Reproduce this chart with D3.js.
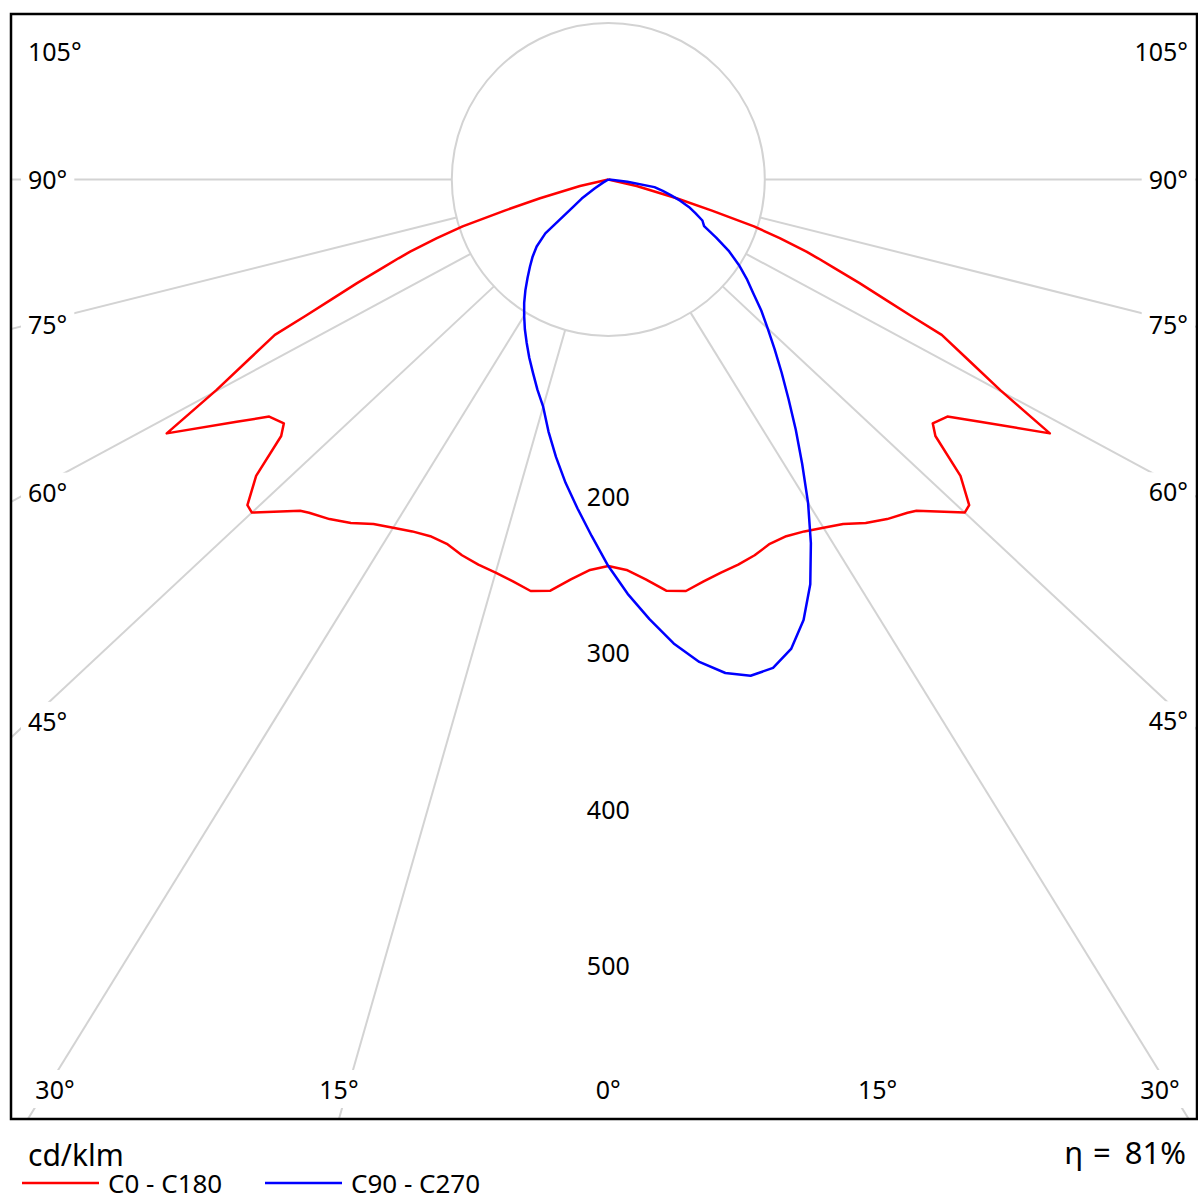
<!DOCTYPE html>
<html>
<head>
<meta charset="utf-8">
<script src="https://cdn.jsdelivr.net/npm/d3@7"></script>
<style>
  html, body { margin: 0; padding: 0; background: #fff; }
  svg { display: block; }
  text { font-family: "Noto Sans", "DejaVu Sans", sans-serif; fill: #000; }
</style>
</head>
<body>
<svg id="chart" width="1198" height="1202"></svg>
<script>
// ---------------- data (cd/klm) ----------------
// C0 - C180 (symmetric, values for gamma >= 0, mirrored to the other side)
const redAngles = [0,2.5,5,7.5,10,12.5,15,17.5,20,22.5,25,27.5,30,32.5,35,37.5,40,41,45,46,48,50,51.2,53.2,55.1,58.4,60.1,61.9,63.5,64.3,65.1,66.2,67.3,68.1,68.7,69.9,71,72.2,73.6,76.2,90];
const redValues = [247,249.7,256.5,265,267,263,260,258,255.5,252,251.5,253.5,257,261,268,273.5,278,280.5,301,299.6,283,255,248.6,252.9,270.6,309.6,270,242.5,222.5,200,183,164,145.6,135,127,109,92,65,42.5,17.4,0];

// C90 - C270 (gamma 0..90 in 2.5 degree steps)
const blueAngles = [0,2.5,5,7.5,10,12.5,15,17.5,20,22.5,25,27.5,30,32.5,35,37.5,40,42.5,45,47.5,50,52.5,55,57.5,60,62.5,65,67.5,70,72.5,75,77.5,80,82.5,85,87.5,90];
const c90Values  = [247,265,282,299,313,323,328.3,327.2,319.2,304.7,285.4,262,238.6,215.5,195.2,176.8,161,147,134.6,123.9,113,104.2,95.2,85.6,74.4,64.5,62,56.3,51.2,45,38.6,33.3,28,11.5,3,0,0];
const c270Values = [247,228,211,195.5,180,165,150.3,140.8,131.5,123.3,115.3,107.9,100.5,93.5,86.3,79.2,72.8,66.9,60.5,51,28,20,10,4,0,0,0,0,0,0,0,0,0,0,0,0,0];

const gridLeft = [15,30,45,60,75,90];
const gridRight = [30,45,60,75,90];
const sideLabels = [105,90,75,60,45];
const bottomLabels = [30,15,0];
const valueTicks = [200,300,400,500];
const legendItems = ["C0 - C180","C90 - C270"];
const legendColors = ["#ff0000","#0000ff"];
const unitLabel = "cd/klm";
const effParts = ["η", "=", "81%"];

// ---------------- layout ----------------
const svg = d3.select("#chart");
const frame = {x0: 11, y0: 14, x1: 1197, y1: 1119};
const cx = 608.3, cy = 179.5;
const aspect = 1.07;
const rScale = d3.scaleLinear().domain([0, 100]).range([0, 156.5]);
const rad = d => d * Math.PI / 180;
function pt(theta, v) {
  const t = rad(theta);
  return [cx + aspect * rScale(v) * Math.sin(t), cy + rScale(v) * Math.cos(t)];
}
function dir(theta) {
  const t = rad(theta);
  const dx = aspect * Math.sin(t), dy = Math.cos(t);
  const n = Math.hypot(dx, dy);
  return [dx / n, dy / n];
}

svg.append("defs").append("clipPath").attr("id", "fclip")
  .append("rect").attr("x", frame.x0).attr("y", frame.y0)
  .attr("width", frame.x1 - frame.x0).attr("height", frame.y1 - frame.y0);

const plot = svg.append("g").attr("clip-path", "url(#fclip)");
const gridColor = "#d3d3d3";

// radial grid lines
const gridSigned = gridLeft.map(a => -a).concat(gridRight);
plot.selectAll("line.grid").data(gridSigned).enter().append("line")
  .attr("class", "grid")
  .attr("x1", a => cx + rScale(100) * dir(a)[0])
  .attr("y1", a => cy + rScale(100) * dir(a)[1])
  .attr("x2", a => cx + 3000 * dir(a)[0])
  .attr("y2", a => cy + 3000 * dir(a)[1])
  .attr("stroke", gridColor).attr("stroke-width", 2);

// circle r = 100
plot.append("circle").attr("cx", cx).attr("cy", cy).attr("r", rScale(100))
  .attr("fill", "none").attr("stroke", gridColor).attr("stroke-width", 2);

// curves
const line = d3.line().x(d => d[0]).y(d => d[1]);
const redPts = [];
for (let i = redAngles.length - 1; i >= 0; i--) redPts.push(pt(-redAngles[i], redValues[i]));
for (let i = 1; i < redAngles.length; i++) redPts.push(pt(redAngles[i], redValues[i]));
const bluePts = [];
for (let i = blueAngles.length - 1; i >= 0; i--) bluePts.push(pt(-blueAngles[i], c270Values[i]));
for (let i = 1; i < blueAngles.length; i++) bluePts.push(pt(blueAngles[i], c90Values[i]));

plot.append("path").attr("d", line(redPts)).attr("fill", "none")
  .attr("stroke", legendColors[0]).attr("stroke-width", 2.5).attr("stroke-linejoin", "round");
plot.append("path").attr("d", line(bluePts)).attr("fill", "none")
  .attr("stroke", legendColors[1]).attr("stroke-width", 2.5).attr("stroke-linejoin", "round");

// value labels
svg.selectAll("text.val").data(valueTicks).enter().append("text")
  .attr("class", "val").attr("x", cx).attr("y", v => cy + rScale(v) + 13)
  .attr("text-anchor", "middle").attr("font-size", 25).text(v => v);

// angle labels with white background
const labG = svg.append("g");
function addLabel(x, y, anchor, txt) {
  const g = labG.append("g");
  const r = g.append("rect").attr("fill", "#fff");
  const t = g.append("text").attr("x", x).attr("y", y + 9).attr("text-anchor", anchor)
    .attr("font-size", 25).text(txt);
  const b = t.node().getBBox();
  r.attr("x", b.x - 7).attr("y", b.y - 2).attr("width", b.width + 14).attr("height", b.height + 4);
}
const leftX = 28, rightX = 1188, minY = 52, bottomY = 1090;
sideLabels.forEach(a => {
  [-1, 1].forEach(s => {
    const d = dir(a);
    const xEdge = s < 0 ? leftX : rightX;
    const t = Math.abs(xEdge - cx) / d[0];
    const y = Math.max(minY, cy + t * d[1]);
    addLabel(xEdge, y, s < 0 ? "start" : "end", a + "°");
  });
});
bottomLabels.forEach(a => {
  const sides = a === 0 ? [1] : [-1, 1];
  sides.forEach(s => {
    const d = dir(a);
    const t = (frame.y1 - cy) / d[1];
    let x = cx + s * t * d[0];
    x = Math.max(55, Math.min(1160, x));
    addLabel(x, bottomY, "middle", a + "°");
  });
});

// frame
svg.append("rect").attr("x", frame.x0).attr("y", frame.y0)
  .attr("width", frame.x1 - frame.x0).attr("height", frame.y1 - frame.y0)
  .attr("fill", "none").attr("stroke", "#000").attr("stroke-width", 2.5);

// footer
svg.append("text").attr("x", 28).attr("y", 1166).attr("font-size", 30).text(unitLabel);
const eff = svg.append("text").attr("x", 1186).attr("y", 1164).attr("text-anchor", "end")
  .attr("font-size", 31);
eff.append("tspan").text(effParts[0]);
eff.append("tspan").attr("dx", 10).text(effParts[1]);
eff.append("tspan").attr("dx", 14).text(effParts[2]);

const legX = [22, 265];
legendItems.forEach((name, i) => {
  svg.append("line").attr("x1", legX[i]).attr("x2", legX[i] + 77)
    .attr("y1", 1183).attr("y2", 1183)
    .attr("stroke", legendColors[i]).attr("stroke-width", 2.5);
  svg.append("text").attr("x", legX[i] + 86).attr("y", 1193)
    .attr("font-size", 26).text(name);
});
</script>
</body>
</html>
